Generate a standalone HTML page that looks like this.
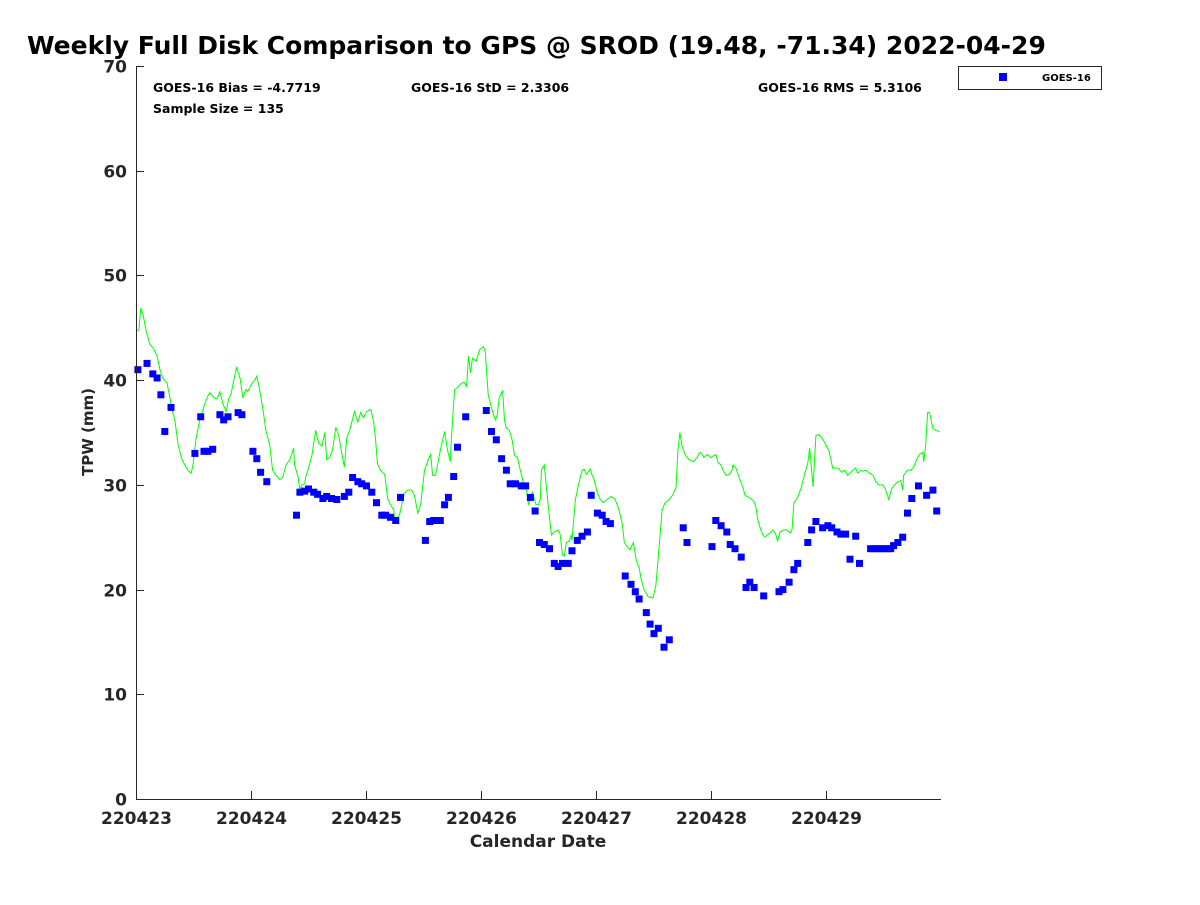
<!DOCTYPE html>
<html><head><meta charset="utf-8"><style>
body{margin:0;background:#fff;}
svg text{font-family:"DejaVu Sans","Liberation Sans",sans-serif;font-weight:bold;fill:#262626;}
</style></head><body>
<svg id="chart" width="1200" height="900" xmlns="http://www.w3.org/2000/svg">
<rect width="1200" height="900" fill="#fff"/>
<text x="27" y="54" font-size="25" style="fill:#000">Weekly Full Disk Comparison to GPS @ SROD (19.48, -71.34) 2022-04-29</text>
<text x="153" y="92" font-size="12.5" style="fill:#000">GOES-16 Bias = -4.7719</text>
<text x="153" y="113" font-size="12.5" style="fill:#000">Sample Size = 135</text>
<text x="411" y="92" font-size="12.5" style="fill:#000">GOES-16 StD = 2.3306</text>
<text x="758" y="92" font-size="12.5" style="fill:#000">GOES-16 RMS = 5.3106</text>
<g>
<rect x="958.5" y="66.5" width="143" height="23" fill="#fff" stroke="#262626" stroke-width="1"/>
<rect x="999" y="73" width="8" height="8" fill="#0000ff"/>
<text x="1042" y="81" font-size="10" style="fill:#000">GOES-16</text>
</g>
<g id="plot"></g>
<text x="538" y="847" font-size="17" text-anchor="middle">Calendar Date</text>
<text transform="translate(93,432) rotate(-90)" font-size="15" text-anchor="middle">TPW (mm)</text>
</svg>
<script>
const xTickLabels = ["220423","220424","220425","220426","220427","220428","220429"];
const yTicks = [0,10,20,30,40,50,60,70];
// GOES-16 samples: hours since 220423 00Z, TPW (mm)
const goesHours = [0.4,2.3,3.5,4.4,5.2,6.0,7.3,12.3,13.5,14.2,15.0,16.0,17.5,18.3,19.2,21.3,22.1,24.4,25.2,26.0,27.3,33.5,34.2,35.2,36.0,37.1,37.9,39.0,39.8,40.8,41.9,43.5,44.4,45.2,46.3,47.1,48.1,49.2,50.2,51.3,52.1,53.1,54.2,55.2,60.4,61.3,62.1,62.9,63.5,64.4,65.2,66.3,67.1,68.8,73.1,74.2,75.2,76.3,77.3,78.1,79.2,80.4,81.3,82.3,83.3,84.2,85.2,86.3,87.3,88.1,89.0,90.2,91.0,92.1,93.1,94.2,95.0,96.3,97.3,98.1,99.0,102.1,103.3,104.2,105.0,106.5,107.3,108.1,109.0,110.2,111.3,114.2,115.0,120.2,121.0,122.1,123.3,124.0,125.0,126.3,127.3,128.1,129.0,131.0,134.2,135.0,136.3,137.3,138.1,140.2,141.0,141.9,143.3,144.4,145.2,146.3,147.1,148.1,149.0,150.2,151.0,153.3,154.2,155.0,155.8,156.7,157.5,158.1,159.0,160.0,161.0,161.9,163.3,165.0,166.3,167.1];
const goesTpw = [41.0,41.6,40.6,40.2,38.6,35.1,37.4,33.0,36.5,33.2,33.2,33.4,36.7,36.2,36.5,36.9,36.7,33.2,32.5,31.2,30.3,27.1,29.3,29.4,29.6,29.3,29.1,28.7,28.9,28.7,28.6,28.9,29.3,30.7,30.3,30.1,29.9,29.3,28.3,27.1,27.1,26.9,26.6,28.8,24.7,26.5,26.6,26.6,26.6,28.1,28.8,30.8,33.6,36.5,37.1,35.1,34.3,32.5,31.4,30.1,30.1,29.9,29.9,28.8,27.5,24.5,24.3,23.9,22.5,22.2,22.5,22.5,23.7,24.7,25.1,25.5,29.0,27.3,27.1,26.5,26.3,21.3,20.5,19.8,19.1,17.8,16.7,15.8,16.3,14.5,15.2,25.9,24.5,24.1,26.6,26.1,25.5,24.3,23.9,23.1,20.2,20.7,20.2,19.4,19.8,20.0,20.7,21.9,22.5,24.5,25.7,26.5,25.9,26.1,25.9,25.5,25.3,25.3,22.9,25.1,22.5,23.9,23.9,23.9,23.9,23.9,23.9,24.2,24.5,25.0,27.3,28.7,29.9,29.0,29.5,27.5];
// GPS TPW line
const gpsHours = [0,0.6,1.0,1.5,2.1,2.9,3.5,4.4,5.0,5.6,6.5,7.1,7.5,8.1,8.8,9.6,10.2,10.8,11.5,11.9,12.5,13.3,14.4,15.0,15.4,16.3,16.9,17.5,18.1,18.8,19.4,19.8,20.4,21.0,21.7,22.3,22.9,23.3,24.2,24.8,25.2,25.8,26.5,27.1,27.9,28.5,29.2,30.0,30.6,31.3,32.1,32.9,33.1,33.8,34.2,34.6,35.2,35.4,36.0,36.7,37.5,38.1,38.8,39.4,39.8,40.4,41.0,41.7,42.3,42.9,43.5,44.0,44.6,45.6,46.3,46.9,47.5,48.1,49.0,49.6,50.0,50.4,51.0,51.9,52.5,53.1,53.8,54.0,55.0,56.0,56.7,57.5,58.1,58.8,59.4,60.2,61.0,61.5,61.9,62.5,63.5,64.4,65.0,65.6,65.8,66.5,67.1,67.9,68.5,69.0,69.4,69.8,70.2,71.0,71.7,72.5,72.9,73.5,74.4,75.0,75.4,75.8,76.5,76.9,77.3,77.9,78.5,79.0,79.6,80.2,80.6,81.0,81.5,81.9,82.7,83.5,84.0,84.4,84.6,85.2,86.0,86.7,87.3,88.1,88.5,89.0,89.4,89.8,90.4,90.8,91.0,91.7,92.5,93.1,93.5,94.0,94.8,95.2,95.6,96.3,96.9,97.5,98.3,99.2,100.0,100.8,101.5,101.9,102.5,103.1,103.8,104.4,105.0,105.4,106.0,106.9,107.9,108.5,109.2,109.8,110.4,111.3,112.1,112.7,113.1,113.5,113.9,114.6,115.4,116.3,117.1,117.5,117.9,118.5,119.2,120.0,120.6,121.0,121.5,122.1,122.5,123.1,123.8,124.4,124.6,125.2,125.8,126.7,127.1,127.9,128.5,129.0,129.4,129.8,130.4,130.8,131.3,131.7,132.3,132.9,133.5,133.9,134.4,135.2,135.8,136.5,136.9,137.3,138.1,138.8,139.6,140.2,140.6,141.3,141.9,142.5,143.1,143.8,144.2,144.6,145.4,146.5,147.3,147.9,148.5,149.6,150.2,150.6,151.3,151.7,152.3,152.9,153.8,154.4,155.0,155.8,156.3,157.1,157.7,158.3,159.0,159.6,160.0,160.2,161.0,161.7,162.3,162.9,163.5,164.2,164.4,164.8,165.2,165.6,166.3,166.9,167.7];
const gpsTpw = [44.7,44.8,46.9,46.2,44.7,43.4,43.1,42.3,41.0,40.2,39.7,38.3,37.2,36.2,33.8,32.4,31.9,31.4,31.1,31.9,34.3,36.2,37.8,38.5,38.8,38.3,38.2,38.9,37.8,37.0,38.3,38.6,40.0,41.2,40.2,38.3,39.1,38.9,39.7,40.0,40.4,39.1,37.2,35.2,33.8,31.4,30.9,30.5,30.7,31.9,32.4,33.5,31.9,30.8,29.5,30.0,30.1,30.7,31.6,32.8,35.2,34.0,33.7,35.0,32.4,32.6,33.3,35.5,34.7,33.1,31.7,34.5,35.2,37.0,36.0,36.9,36.4,37.0,37.2,36.0,34.3,32.0,31.4,31.0,28.7,28.1,27.6,26.6,27.1,29.2,29.5,29.5,29.0,27.3,28.1,31.4,32.4,32.9,30.9,30.9,33.3,35.1,33.3,32.2,34.3,39.1,39.3,39.7,39.8,39.4,42.3,40.7,42.1,41.8,42.9,43.2,42.7,38.6,37.0,36.2,36.7,38.3,39.0,36.2,35.4,35.2,34.3,32.8,32.6,31.4,30.7,29.8,29.5,28.1,29.3,28.1,28.1,28.7,31.4,31.9,28.1,25.2,25.5,25.7,25.3,23.3,23.2,24.5,24.6,25.2,24.7,28.6,30.3,31.4,31.5,31.0,31.5,30.9,30.5,29.2,28.6,28.3,28.6,28.9,28.6,27.6,26.2,24.5,24.1,23.8,24.5,22.8,22.1,21.1,20.0,19.3,19.2,20.4,24.3,27.6,28.3,28.6,29.1,29.7,33.3,35.0,33.8,32.9,32.4,32.2,32.6,33.0,33.1,32.6,32.9,32.6,32.8,32.9,32.1,31.9,31.4,30.9,31.0,31.4,31.9,31.6,30.8,29.7,29.0,28.8,28.6,28.4,27.8,26.6,25.7,25.2,25.0,25.2,25.4,25.7,25.3,24.6,25.5,25.7,25.7,25.4,25.7,28.3,28.8,29.7,31.1,32.1,33.5,29.8,34.7,34.8,34.5,34.0,33.6,33.3,31.6,31.6,31.2,31.4,30.9,31.4,31.6,31.1,31.4,31.3,31.4,31.2,30.9,30.3,30.0,30.0,29.7,28.6,29.6,30.0,30.3,30.4,29.5,30.9,31.4,31.4,31.7,32.4,32.9,33.1,32.2,33.8,36.9,36.9,35.4,35.2,35.1];

const NS="http://www.w3.org/2000/svg";
const L=136,R=941,T=66,B=799,X0=0,X1=168,Y0=0,Y1=70;
const sx=h=>L+(h-X0)/(X1-X0)*(R-L);
const sy=v=>B-(v-Y0)/(Y1-Y0)*(B-T);
const plot=document.getElementById('plot');
function mk(tag,attrs){const e=document.createElementNS(NS,tag);for(const k in attrs)e.setAttribute(k,attrs[k]);plot.appendChild(e);return e;}

let d=gpsHours.map((h,i)=>(i?'L':'M')+sx(h).toFixed(1)+','+sy(gpsTpw[i]).toFixed(1)).join('');
const line=mk('path',{d:d,fill:'none',stroke:'#00ff00','stroke-width':1});



goesHours.forEach((h,i)=>{
  const r=mk('rect',{x:(sx(h)-3.5).toFixed(1),y:(sy(goesTpw[i])-3.5).toFixed(1),width:7,height:7,fill:'#0000ff'});
  
  
});

const ax=mk('path',{d:`M${L+0.5},${T}V${B+0.5}H${R}`,fill:'none',stroke:'#262626','stroke-width':1});


yTicks.forEach(v=>{
  const y=Math.round(sy(v))+0.5;
  const t=mk('line',{x1:L,x2:L+8,y1:y,y2:y,stroke:'#262626'});
  
  
  const lb=mk('text',{x:L-9,y:y+6,'font-size':17,'text-anchor':'end'});
  lb.textContent=v;
  
  
});
xTickLabels.forEach((s,i)=>{
  const x=Math.round(sx(i*24))+0.5;
  const t=mk('line',{x1:x,x2:x,y1:B,y2:B-8,stroke:'#262626'});
  
  
  const lb=mk('text',{x:x,y:824,'font-size':17,'text-anchor':'middle'});
  lb.textContent=s;
  
  
});
</script>
</body></html>
